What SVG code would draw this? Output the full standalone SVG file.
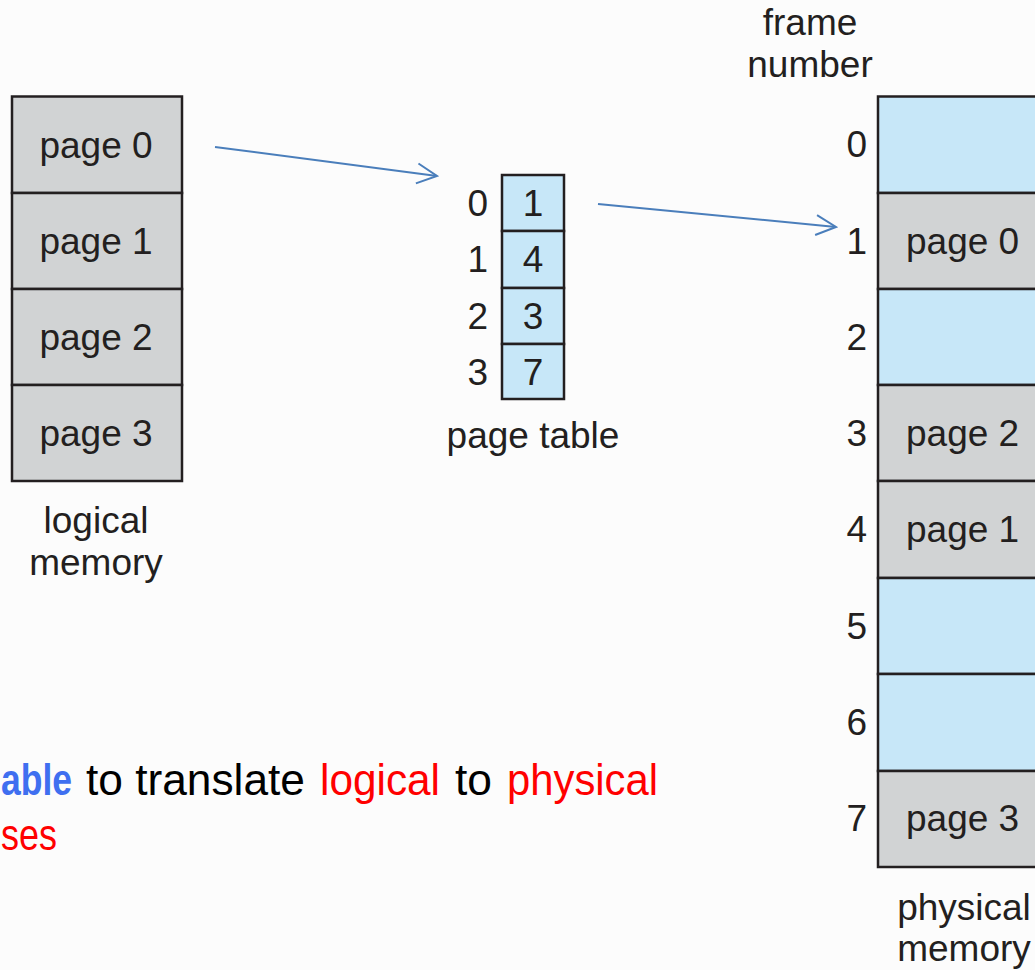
<svg xmlns="http://www.w3.org/2000/svg" width="1035" height="970" viewBox="0 0 1035 970">
<style>
.lbl{font-family:"Liberation Sans",Arial,sans-serif;font-size:37px;fill:#231f20}
.gray{fill:#d1d3d4;stroke:#231f20;stroke-width:2.5}
.blue{fill:#c7e7f8;stroke:#231f20;stroke-width:2.5}
.conn{fill:none;stroke:#4a7ebb;stroke-width:2}
.cap{font-family:"Liberation Sans",Arial,sans-serif;font-size:44px}
</style>
<defs>
<marker id="arr" viewBox="0 0 24 24" refX="22" refY="12" markerWidth="24" markerHeight="24" markerUnits="userSpaceOnUse" orient="auto">
<path d="M2,2 L22,12 L2,22" fill="none" stroke="#4a7ebb" stroke-width="2"/>
</marker>
</defs>
<rect width="1035" height="970" fill="#fcfcfc"/>
<g id="logical-memory">
<rect class="gray" x="12" y="96.5" width="170" height="96.5"/>
<rect class="gray" x="12" y="193" width="170" height="96"/>
<rect class="gray" x="12" y="289" width="170" height="96"/>
<rect class="gray" x="12" y="385" width="170" height="96"/>
<text class="lbl" x="96" y="158" text-anchor="middle">page 0</text>
<text class="lbl" x="96" y="254" text-anchor="middle">page 1</text>
<text class="lbl" x="96" y="350" text-anchor="middle">page 2</text>
<text class="lbl" x="96" y="446" text-anchor="middle">page 3</text>
<text class="lbl" x="96" y="533" text-anchor="middle">logical</text>
<text class="lbl" x="96" y="575" text-anchor="middle">memory</text>
</g>
<g id="page-table">
<rect class="blue" x="502" y="175" width="62" height="56"/>
<rect class="blue" x="502" y="231" width="62" height="57"/>
<rect class="blue" x="502" y="288" width="62" height="56"/>
<rect class="blue" x="502" y="344" width="62" height="55"/>
<text class="lbl" x="533" y="216" text-anchor="middle">1</text>
<text class="lbl" x="533" y="272" text-anchor="middle">4</text>
<text class="lbl" x="533" y="329" text-anchor="middle">3</text>
<text class="lbl" x="533" y="385" text-anchor="middle">7</text>
<text class="lbl" x="488" y="216" text-anchor="end">0</text>
<text class="lbl" x="488" y="272" text-anchor="end">1</text>
<text class="lbl" x="488" y="329" text-anchor="end">2</text>
<text class="lbl" x="488" y="385" text-anchor="end">3</text>
<text class="lbl" x="533" y="448" text-anchor="middle">page table</text>
</g>
<g id="physical-memory">
<rect class="blue" x="878" y="96.5" width="170" height="96.5"/>
<rect class="gray" x="878" y="193" width="170" height="96"/>
<rect class="blue" x="878" y="289" width="170" height="96"/>
<rect class="gray" x="878" y="385" width="170" height="96"/>
<rect class="gray" x="878" y="481" width="170" height="97"/>
<rect class="blue" x="878" y="578" width="170" height="96"/>
<rect class="blue" x="878" y="674" width="170" height="97"/>
<rect class="gray" x="878" y="771" width="170" height="96"/>
<text class="lbl" x="906" y="254">page 0</text>
<text class="lbl" x="906" y="446">page 2</text>
<text class="lbl" x="906" y="542">page 1</text>
<text class="lbl" x="906" y="831">page 3</text>
<text class="lbl" x="867" y="157" text-anchor="end">0</text>
<text class="lbl" x="867" y="254" text-anchor="end">1</text>
<text class="lbl" x="867" y="350" text-anchor="end">2</text>
<text class="lbl" x="867" y="446" text-anchor="end">3</text>
<text class="lbl" x="867" y="542" text-anchor="end">4</text>
<text class="lbl" x="867" y="639" text-anchor="end">5</text>
<text class="lbl" x="867" y="735" text-anchor="end">6</text>
<text class="lbl" x="867" y="831" text-anchor="end">7</text>
<text class="lbl" x="810" y="35" text-anchor="middle">frame</text>
<text class="lbl" x="810" y="77" text-anchor="middle">number</text>
<text class="lbl" x="964" y="920" text-anchor="middle">physical</text>
<text class="lbl" x="964" y="961" text-anchor="middle">memory</text>
</g>
<g id="connectors">
<line class="conn" x1="215" y1="147" x2="437" y2="176" marker-end="url(#arr)"/>
<line class="conn" x1="598" y1="204" x2="836" y2="227" marker-end="url(#arr)"/>
</g>
<g id="caption">
<text class="cap" y="795"><tspan x="1" font-weight="bold" fill="#3f6ff0" textLength="71" lengthAdjust="spacingAndGlyphs">able</tspan><tspan x="86" fill="#000" textLength="219" lengthAdjust="spacingAndGlyphs">to translate</tspan><tspan x="320" fill="#f00" textLength="120" lengthAdjust="spacingAndGlyphs">logical</tspan><tspan x="455" fill="#000" textLength="37" lengthAdjust="spacingAndGlyphs">to</tspan><tspan x="507" fill="#f00" textLength="151" lengthAdjust="spacingAndGlyphs">physical</tspan></text>
<text class="cap" x="1" y="850" fill="#f00" textLength="56" lengthAdjust="spacingAndGlyphs">ses</text>
</g>
</svg>
